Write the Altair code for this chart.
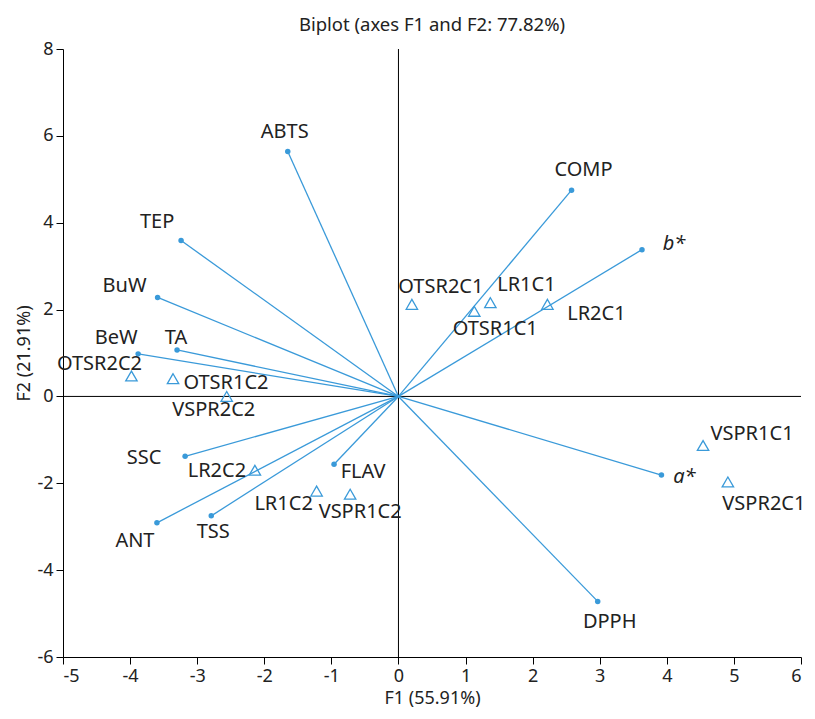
import altair as alt
import pandas as pd

# ---- data ----
var_names = ["ABTS", "COMP", "b*", "TEP", "BuW", "BeW", "TA", "SSC", "ANT", "TSS", "FLAV", "a*", "DPPH"]
var_f1 = [-1.65, 2.58, 3.63, -3.24, -3.59, -3.88, -3.30, -3.18, -3.60, -2.79, -0.96, 3.92, 2.97]
var_f2 = [5.64, 4.75, 3.38, 3.59, 2.28, 0.98, 1.07, -1.38, -2.91, -2.75, -1.56, -1.81, -4.72]

obs_names = ["OTSR2C2", "OTSR1C2", "VSPR2C2", "LR2C2", "LR1C2", "VSPR1C2",
             "OTSR2C1", "OTSR1C1", "LR1C1", "LR2C1", "VSPR1C1", "VSPR2C1"]
obs_f1 = [-3.98, -3.36, -2.56, -2.14, -1.22, -0.72, 0.20, 1.13, 1.37, 2.22, 4.54, 4.91]
obs_f2 = [0.47, 0.41, 0.00, -1.70, -2.18, -2.25, 2.12, 1.96, 2.16, 2.12, -1.13, -1.97]

x_ticks = [-5, -4, -3, -2, -1, 0, 1, 2, 3, 4, 5, 6]
y_ticks = [-6, -4, -2, 0, 2, 4, 6, 8]

# ---- label placement (pixel offsets, layout only) ----
label_offsets = {
    "ABTS": (-3, -19), "COMP": (12, -20), "b*": (32, -6), "TEP": (-24, -19),
    "BuW": (-33, -11), "BeW": (-22, -16), "TA": (-1, -12), "SSC": (-41, 2),
    "ANT": (-22, 18), "TSS": (2, 16), "FLAV": (29, 8), "a*": (23, 2), "DPPH": (12, 21),
    "OTSR2C2": (-32, -12), "OTSR1C2": (53, 4), "VSPR2C2": (-13, 14), "LR2C2": (-38, 1),
    "LR1C2": (-33, 13), "VSPR1C2": (10, 18), "OTSR2C1": (29, -17), "OTSR1C1": (21, 18),
    "LR1C1": (36, -18), "LR2C1": (49, 10), "VSPR1C1": (49, -12), "VSPR2C1": (36, 22),
}

BLUE = "#3a9ad9"
FONT = "Noto Sans"
TXT = "#222222"

var_df = pd.DataFrame({"name": var_names, "F1": var_f1, "F2": var_f2})
obs_df = pd.DataFrame({"name": obs_names, "F1": obs_f1, "F2": obs_f2})
zero_df = pd.DataFrame({"v": [0]})

xs = alt.Scale(domain=[-5, 6], nice=False, zero=False)
ys = alt.Scale(domain=[-6, 8], nice=False, zero=False)
xaxis = alt.Axis(values=x_ticks, grid=False, title="F1 (55.91%)", titlePadding=4,
                 labelExpr="datum.value + ''")
yaxis = alt.Axis(values=y_ticks, grid=False, title="F2 (21.91%)", titlePadding=3,
                 labelExpr="datum.value + ''")


def X(field):
    return alt.X(field, type="quantitative", scale=xs, axis=xaxis)


def Y(field):
    return alt.Y(field, type="quantitative", scale=ys, axis=yaxis)


vline = alt.Chart(zero_df).mark_rule(color="black", strokeWidth=1).encode(x=X("v"))
hline = alt.Chart(zero_df).mark_rule(color="black", strokeWidth=1).encode(y=Y("v"))

vectors = alt.Chart(var_df).mark_rule(color=BLUE, strokeWidth=1.3).encode(
    x=X("F1"), y=Y("F2"), x2=alt.X2(datum=0), y2=alt.Y2(datum=0)
)
dots = alt.Chart(var_df).mark_circle(color=BLUE, size=30, opacity=1).encode(x=X("F1"), y=Y("F2"))
tris = alt.Chart(obs_df).mark_point(
    shape="triangle-up", filled=False, color=BLUE, size=130, strokeWidth=1.3, opacity=1
).encode(x=X("F1"), y=Y("F2"))

layers = [vline, hline, vectors, dots, tris]

for df in (var_df, obs_df):
    for nm in df["name"]:
        dx, dy = label_offsets[nm]
        italic = nm in ("a*", "b*")
        t = alt.Chart(df).transform_filter(alt.datum.name == nm).mark_text(
            dx=dx, dy=dy, align="center", baseline="middle", font=FONT,
            fontSize=20, color=TXT, fontStyle="italic" if italic else "normal"
        ).encode(x=X("F1"), y=Y("F2"), text="name:N")
        layers.append(t)

chart = alt.layer(*layers).properties(
    width=738,
    height=608,
    title=alt.TitleParams("Biplot (axes F1 and F2: 77.82%)", font=FONT, fontSize=18.5,
                          fontWeight="normal", color=TXT, offset=6),
    padding={"left": 55, "top": 41, "right": 6, "bottom": 54},
    autosize=alt.AutoSizeParams(type="none"),
).configure_axis(
    domainColor="black", tickColor="black", tickSize=7, labelFont=FONT, labelFontSize=18,
    labelColor=TXT, titleFont=FONT, titleFontSize=18, titleFontWeight="normal", titleColor=TXT,
    labelPadding=3,
).configure_view(stroke=None)

chart.save("out.html", embed_options={"renderer": "svg", "actions": False})
